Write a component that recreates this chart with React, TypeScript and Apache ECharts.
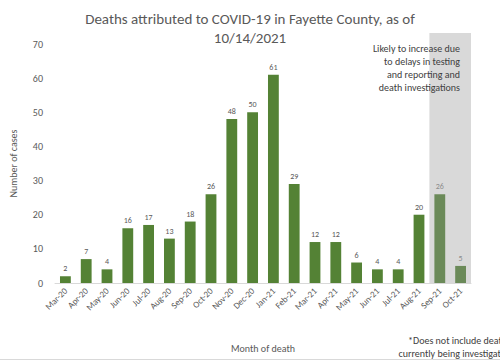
import React, { useEffect, useRef } from "react";
import * as echarts from "echarts";

const categories = ["Mar-20","Apr-20","May-20","Jun-20","Jul-20","Aug-20","Sep-20","Oct-20","Nov-20","Dec-20","Jan-21","Feb-21","Mar-21","Apr-21","May-21","Jun-21","Jul-21","Aug-21","Sep-21","Oct-21"];
const deaths = [2,7,4,16,17,13,18,26,48,50,61,29,12,12,6,4,4,20,26,5];
const provisional = ["Sep-21","Oct-21"];
const titleLines = ["Deaths attributed to COVID-19 in Fayette County, as of", "10/14/2021"];
const noteLines = ["Likely to increase due", "to delays in testing", "and reporting and", "death investigations"];
const footLines = ["*Does not include deaths", "currently being investigated"];

const FONT = "Calibri, Carlito, 'Open Sans', 'Liberation Sans', sans-serif";

export default function App() {
  const ref = useRef<HTMLDivElement>(null);
  useEffect(() => {
    const chart = echarts.init(ref.current!, null, { renderer: "svg" });
    const data = categories.map((c, i) => {
      const p = provisional.includes(c);
      return {
        value: deaths[i],
        itemStyle: { color: p ? "#6b8a59" : "#548235" },
        label: { color: p ? "#8c8c8c" : "#595959" },
      };
    });
    chart.setOption({
      animation: false,
      textStyle: { fontFamily: FONT },
      title: {
        text: titleLines.join("\n"),
        left: "center",
        top: 4,
        textStyle: { fontSize: 15, fontWeight: "normal", color: "#595959", lineHeight: 19, fontFamily: FONT },
      },
      grid: { left: 40, right: 29, top: 44, bottom: 77 },
      xAxis: {
        type: "category",
        data: categories,
        name: "Month of death",
        nameLocation: "middle",
        nameGap: 60,
        nameTextStyle: { color: "#595959", fontSize: 10 },
        axisLine: { lineStyle: { color: "#d9d9d9" } },
        axisTick: { show: false },
        axisLabel: { rotate: 45, color: "#595959", fontSize: 9, interval: 0, margin: 6 },
      },
      yAxis: {
        type: "value",
        min: 0,
        max: 70,
        interval: 10,
        name: "Number of cases",
        nameLocation: "middle",
        nameGap: 37,
        nameTextStyle: { color: "#595959", fontSize: 10 },
        splitLine: { show: false },
        axisLine: { show: false },
        axisTick: { show: false },
        axisLabel: { color: "#595959", fontSize: 10, margin: 12 },
      },
      series: [
        {
          type: "bar",
          data,
          barWidth: "52%",
          z: 3,
          label: { show: true, position: "top", fontSize: 8, distance: 4 },
        },
      ],
    });
    const a = chart.convertToPixel({ xAxisIndex: 0 }, provisional[0]) as number;
    const b = chart.convertToPixel({ xAxisIndex: 0 }, provisional[provisional.length - 1]) as number;
    const band = provisional.length > 1 ? (b - a) / (provisional.length - 1) : 21.5;
    const x0 = a - band / 2;
    const x1 = b + band / 2;
    const yBottom = chart.convertToPixel({ yAxisIndex: 0 }, 0) as number;
    chart.setOption({
      graphic: [
        {
          type: "rect",
          shape: { x: x0, y: 33, width: x1 - x0, height: yBottom - 33 },
          style: { fill: "#d9d9d9" },
          z: 0,
          silent: true,
        },
        {
          type: "text",
          x: x1 - 11,
          y: 42,
          style: {
            text: noteLines.join("\n"),
            align: "right",
            verticalAlign: "top",
            fontSize: 10,
            lineHeight: 13,
            fill: "#404040",
            fontFamily: FONT,
          },
          z: 5,
        },
        {
          type: "text",
          x: 511,
          y: 334,
          style: {
            text: footLines.join("\n"),
            align: "right",
            verticalAlign: "top",
            fontSize: 10,
            lineHeight: 13,
            fill: "#404040",
            fontFamily: FONT,
          },
        },
        {
          type: "line",
          shape: { x1: 0, y1: 359.5, x2: 500, y2: 359.5 },
          style: { stroke: "#d9d9d9", lineWidth: 1 },
        },
      ],
    });
    return () => chart.dispose();
  }, []);
  return <div ref={ref} style={{ width: 500, height: 360, position: "absolute", left: 0, top: 0 }} />;
}
